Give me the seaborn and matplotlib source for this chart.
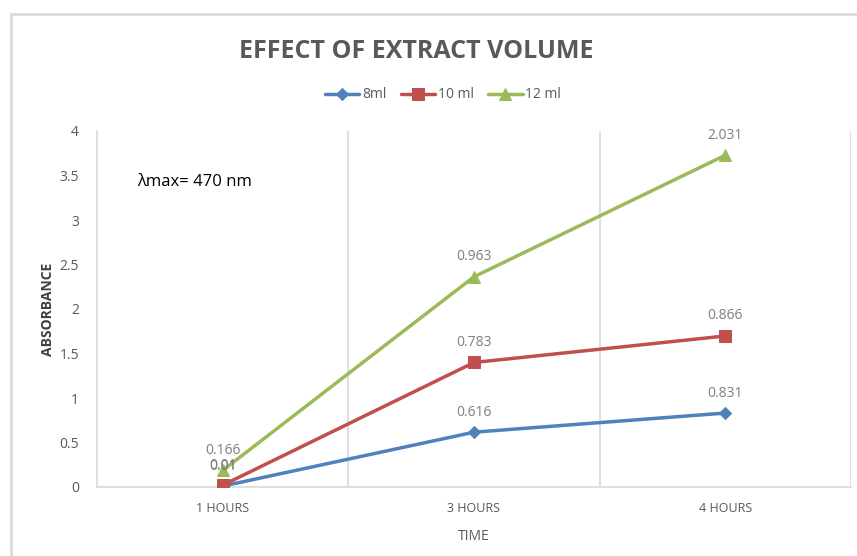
import matplotlib
matplotlib.use("Agg")
import matplotlib.pyplot as plt
import matplotlib.patches as mpatches
import seaborn as sns
import pandas as pd
import numpy as np

# Absorbance readings per extract volume (stacked series)
time_labels = ["1 HOURS", "3 HOURS", "4 HOURS"]
series_names = ["8ml", "10 ml", "12 ml"]
abs_8ml = [0.01, 0.616, 0.831]
abs_10ml = [0.01, 0.783, 0.866]
abs_12ml = [0.166, 0.963, 2.031]
y_ticks = [0, 0.5, 1, 1.5, 2, 2.5, 3, 3.5, 4]

colors = ["#4F81BD", "#C0504D", "#9BBB59"]
markers = ["D", "s", "^"]
marker_sizes = [6, 8, 8]

sns.set_theme(style="white")
plt.rcParams["font.family"] = ["Open Sans", "DejaVu Sans"]

values = [abs_8ml, abs_10ml, abs_12ml]
stacked = np.cumsum(np.array(values), axis=0)

rows = []
for name, vals, cum in zip(series_names, values, stacked):
    for i, (v, c) in enumerate(zip(vals, cum)):
        rows.append({"time": i, "series": name, "value": v, "stacked": c})
df = pd.DataFrame(rows)

fig = plt.figure(figsize=(8.57, 5.56), dpi=100)
# outer chart frame
fig.patches.append(mpatches.Rectangle((11 / 857, -0.1), 1.2, 1 - 14 / 556 + 0.1,
                                      transform=fig.transFigure, fill=False,
                                      edgecolor="#D9D9D9", linewidth=2))
ax = fig.add_axes([97 / 857, 1 - 487 / 556, (851 - 97) / 857, (487 - 131) / 556])

for name, col, mk, ms in zip(series_names, colors, markers, marker_sizes):
    sub = df[df.series == name]
    sns.lineplot(data=sub, x="time", y="stacked", ax=ax, color=col, linewidth=2.5,
                 marker=mk, markersize=ms, markeredgecolor=col, label=name, zorder=3)

# data labels show each series' own value above the stacked point
for name in series_names:
    sub = df[df.series == name]
    for _, r in sub.iterrows():
        ax.annotate(f"{r['value']:g}", (r["time"], r["stacked"]), xytext=(0, 9),
                    textcoords="offset points", ha="center", va="bottom",
                    fontsize=10, color="#7F7F7F", zorder=4)

ax.set_xlim(-0.5, 2.5)
ax.set_ylim(0, 4)
ax.set_yticks(y_ticks)
ax.set_yticklabels([f"{t:g}" for t in y_ticks])
ax.set_xticks(range(len(time_labels)))
ax.set_xticklabels(time_labels)
ax.tick_params(axis="both", length=0, colors="#595959", labelsize=9)
ax.tick_params(axis="y", pad=13, labelsize=10)
ax.tick_params(axis="x", pad=11)

for xb in [0.5, 1.5, 2.5]:
    ax.axvline(xb, color="#D9D9D9", linewidth=1.2, zorder=0)

for side in ["top", "right"]:
    ax.spines[side].set_visible(False)
for side in ["left", "bottom"]:
    ax.spines[side].set_color("#D9D9D9")
    ax.spines[side].set_linewidth(1.2)

ax.set_xlabel("TIME", fontsize=10, color="#595959", labelpad=10)
ax.set_ylabel("ABSORBANCE", fontsize=10, color="#404040", fontweight="bold")
ax.yaxis.set_label_coords(-0.056, 0.5)

ax.text(0.053, 0.857, "λmax= 470 nm", transform=ax.transAxes, fontsize=12,
        color="#000000", ha="left", va="center")

fig.text(416 / 857, 1 - 52 / 556, "EFFECT OF EXTRACT VOLUME", ha="center", va="center",
         fontsize=18, fontweight="bold", color="#595959")

ax.legend(loc="center", bbox_to_anchor=(443 / 857, 1 - 95 / 556),
          bbox_transform=fig.transFigure, ncol=3, frameon=False, fontsize=10,
          handlelength=2.5, columnspacing=1.0, handletextpad=0.2, labelcolor="#595959")

fig.savefig("out.png", dpi=100)
